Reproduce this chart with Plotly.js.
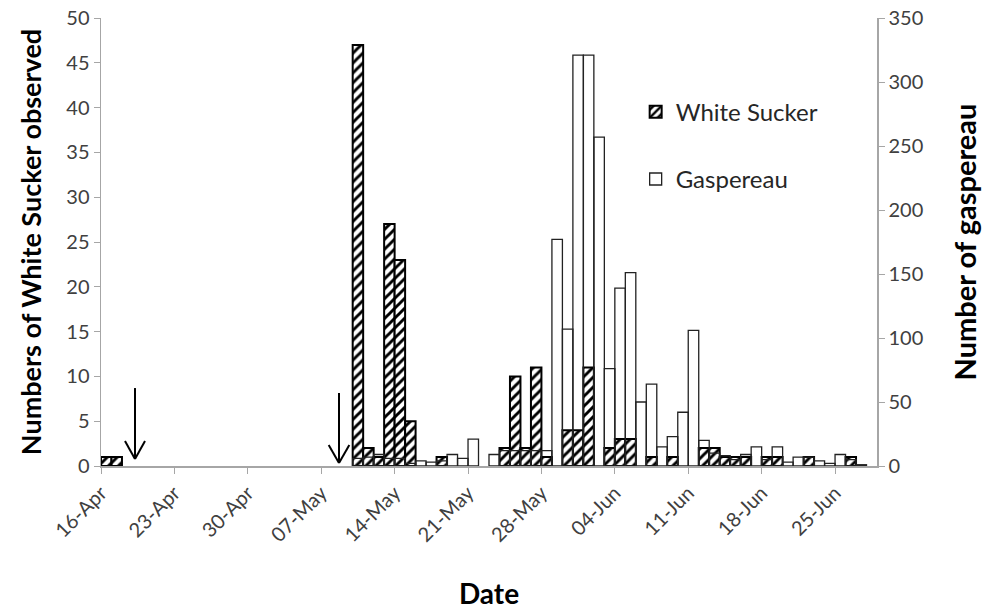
<!DOCTYPE html>
<html>
<head>
<meta charset="utf-8">
<script src="https://cdn.plot.ly/plotly-3.0.1.min.js"></script>
<style>html,body{margin:0;padding:0;background:#fff;}#chart{width:989px;height:610px;}</style>
</head>
<body>
<div id="chart"></div>
<script>
// Sampling dates (each bar covers one day)
const dates = [
  '2013-04-16','2013-04-17',
  '2013-05-10','2013-05-11','2013-05-12','2013-05-13','2013-05-14','2013-05-15','2013-05-16','2013-05-17',
  '2013-05-18','2013-05-19','2013-05-20','2013-05-21','2013-05-23','2013-05-24','2013-05-25','2013-05-26',
  '2013-05-27','2013-05-28','2013-05-29','2013-05-30','2013-05-31','2013-06-01','2013-06-02','2013-06-03',
  '2013-06-04','2013-06-05','2013-06-06','2013-06-07','2013-06-08','2013-06-09','2013-06-10','2013-06-11',
  '2013-06-12','2013-06-13','2013-06-14','2013-06-15','2013-06-16','2013-06-17','2013-06-18','2013-06-19',
  '2013-06-20','2013-06-21','2013-06-22','2013-06-23','2013-06-24','2013-06-25','2013-06-26','2013-06-27'
];
// Numbers of White Sucker observed (left axis); null = none
const whiteSucker = [
  1, 1,
  47, 2, 1, 27, 23, 5, null, null,
  1, null, null, null, null, 2, 10, 2,
  11, 1, null, 4, 4, 11, null, 2,
  3, 3, null, 1, null, 1, null, null,
  2, 2, 1, 1, 1, null, 1, 1,
  null, null, 1, null, null, null, 1, null
];
// Number of gaspereau (right axis); null = none
const gaspereau = [
  null, null,
  6, 7, 9, 6, 6, 2, 4, 3,
  4, 9, 6, 21, 9, 12, 12, 12,
  12, 12, 177, 107, 321, 321, 257, 76,
  139, 151, 50, 64, 15, 23, 42, 106,
  20, 10, 8, 5, 9, 15, 5, 15,
  3, 7, 7, 4, 2, 9, 5, 1
];
const seriesNames = ['White Sucker', 'Gaspereau'];
const xTickStart = '2013-04-16';
const xRange = ['2013-04-16', '2013-06-29'];

const DAY = 86400000;
const FONT = 'Lato, "Open Sans", sans-serif';

const traces = [
  {
    type: 'bar', name: seriesNames[0], x: dates, y: whiteSucker,
    xaxis: 'x', yaxis: 'y', width: DAY, offset: 0,
    legendgroup: 'ws',
    marker: {
      color: '#ffffff',
      line: {color: '#000000', width: 2},
      pattern: {shape: '/', fgcolor: '#000000', bgcolor: '#ffffff', size: 7, solidity: 0.42}
    },
    hoverinfo: 'x+y'
  },
  {
    type: 'bar', name: seriesNames[1], x: dates, y: gaspereau,
    xaxis: 'x', yaxis: 'y2', width: DAY, offset: 0,
    legendgroup: 'g',
    marker: {color: 'rgba(255,255,255,0)', line: {color: '#222222', width: 1.3}},
    hoverinfo: 'x+y'
  }
];

// Arrow helper (paper coordinates)
function arrow(x, yTop, yTip, dx, yHead) {
  const st = {color: '#000', width: 2};
  return [
    {type: 'line', xref: 'paper', yref: 'paper', x0: x, x1: x, y0: yTop, y1: yTip, line: st},
    {type: 'line', xref: 'paper', yref: 'paper', x0: x - dx, x1: x, y0: yHead, y1: yTip, line: st},
    {type: 'line', xref: 'paper', yref: 'paper', x0: x + dx, x1: x, y0: yHead, y1: yTip, line: st}
  ];
}

const axisLine = '#a6a6a6';
const tickFont = {family: FONT, size: 20, color: '#404040'};

const layout = {
  width: 989, height: 610,
  margin: {l: 101, r: 112, t: 18, b: 144},
  paper_bgcolor: '#ffffff', plot_bgcolor: '#ffffff',
  font: {family: FONT, color: '#000'},
  barmode: 'overlay',
  showlegend: true,
  legend: {
    x: 0.689, y: 0.84, xanchor: 'left', yanchor: 'top',
    font: {family: FONT, size: 24, color: '#262626'},
    bgcolor: 'rgba(0,0,0,0)', tracegroupgap: 33, traceorder: 'grouped'
  },
  xaxis: {
    type: 'date', range: xRange,
    tick0: xTickStart, dtick: 7 * DAY, tickformat: '%d-%b', tickangle: -45,
    ticks: 'outside', ticklen: 6, tickcolor: axisLine, tickwidth: 1,
    showline: true, linecolor: axisLine, linewidth: 1.5,
    showgrid: false, zeroline: false,
    tickfont: tickFont,
    title: {text: 'Date', font: {family: FONT, size: 28, color: '#000', weight: 'bold'}, standoff: 47}
  },
  yaxis: {
    range: [0, 50], dtick: 5, tick0: 0,
    ticks: 'outside', ticklen: 6, tickcolor: axisLine, tickwidth: 1,
    showline: true, linecolor: axisLine, linewidth: 1.5,
    showgrid: false, zeroline: false,
    tickfont: tickFont,
    title: {text: 'Numbers of White Sucker observed', font: {family: FONT, size: 27, color: '#000', weight: 'bold'}, standoff: 17}
  },
  yaxis2: {
    range: [0, 350], dtick: 50, tick0: 0,
    overlaying: 'y', side: 'right',
    ticks: 'outside', ticklen: 6, tickcolor: axisLine, tickwidth: 1,
    showline: true, linecolor: axisLine, linewidth: 1.5,
    showgrid: false, zeroline: false,
    tickfont: tickFont,
    title: {text: 'Number of gaspereau', font: {family: FONT, size: 29, color: '#000', weight: 'bold'}, standoff: 33}
  },
  shapes: [].concat(
    arrow(0.0438, 0.174, 0.0156, 0.0129, 0.0558),
    arrow(0.3067, 0.163, 0.0067, 0.0133, 0.0469)
  )
};

Plotly.newPlot('chart', traces, layout, {displayModeBar: false, staticPlot: true});
</script>
</body>
</html>
